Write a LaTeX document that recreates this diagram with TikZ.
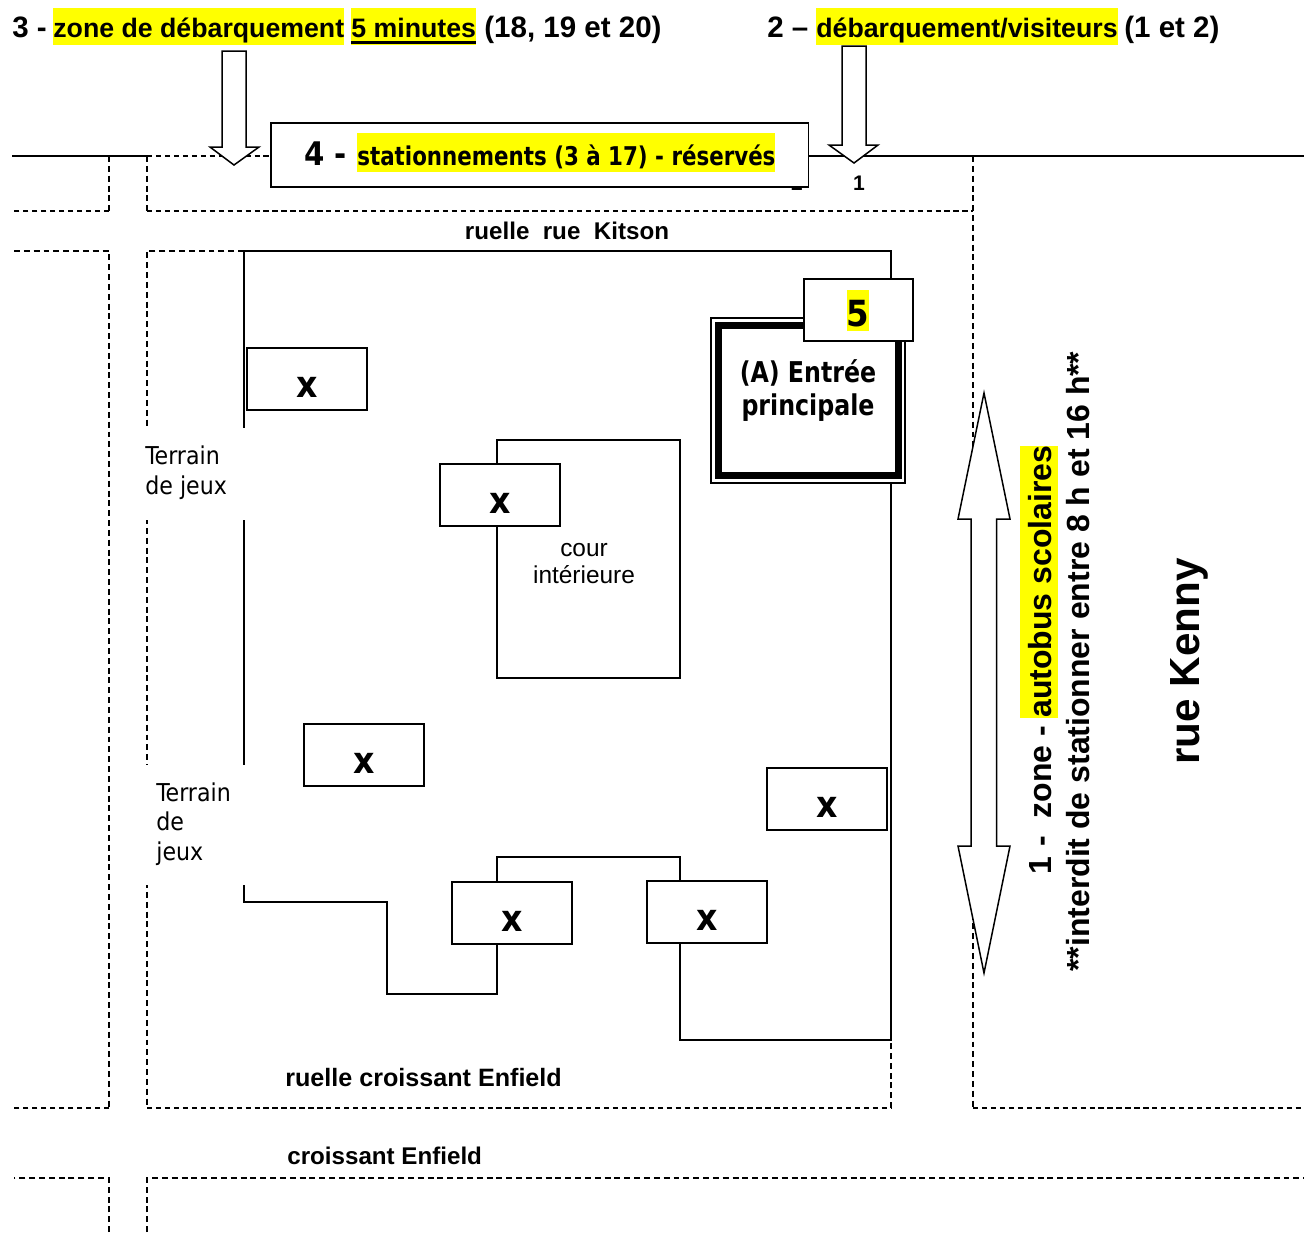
\documentclass[tikz,border=0pt]{standalone}
\usepackage{fontspec}
\setmainfont{Liberation Sans}
\newfontfamily\tahoma{DejaVu Sans Condensed}
\newfontfamily\tahomaetroit[FakeStretch=0.92]{DejaVu Sans Condensed}
\usepackage{tikz}
\usetikzlibrary{
  positioning,
  calc
}
\definecolor{surligneur}{RGB}{255,255,0}
\tikzstyle{rue}=[line width=0.85pt, dash pattern=on 3.4pt off 2.2pt]
\tikzstyle{rueforte}=[line width=1.1pt, dash pattern=on 3pt off 2.1pt]
\tikzstyle{mur}=[line width=0.95pt]
\tikzstyle{fleche}=[line width=0.85pt, fill=white, line join=miter]
\tikzstyle{titre}=[anchor=base west, inner sep=0pt, font=\fontsize{16.8}{20}\selectfont\bfseries]
\tikzstyle{surligne}=[titre, fill=surligneur, text height=16.5pt, text depth=4.5pt, font=\fontsize{15.2}{18}\selectfont\bfseries]
\tikzstyle{vertical}=[titre, rotate=90, font=\fontsize{18.2}{22}\selectfont\bfseries]
\tikzstyle{batiment}=[draw, mur, fill=white, inner sep=0pt, outer sep=0pt, minimum width=68.3pt, text height=28.4pt, text depth=6.7pt, anchor=north west, font=\tahoma\fontsize{21}{24}\selectfont\bfseries]
\tikzstyle{etiquette}=[inner sep=0pt, font=\fontsize{13.75}{16}\selectfont\bfseries]
\tikzstyle{terrain}=[anchor=north west, inner sep=0pt, align=left, font=\tahoma\fontsize{14}{16.8}\selectfont]

\begin{document}
\begin{tikzpicture}[x=0.02cm, y=-0.02cm]
    \useasboundingbox (0,0) rectangle (1304,1232);

    % rue du haut
    \draw [mur] (12,156) -- (147,156);
    \draw [mur] (809,156) -- (1304,156);
    \draw [rueforte] (147,156) -- (270,156);
    \draw [rue] (109,156) -- (109,211);
    \draw [rue] (147,156) -- (147,211);
    \draw [rueforte] (109,211) -- (14,211);
    \draw [rueforte] (147,211) -- (973,211);

    % ruelles et rues en pointille
    \draw [rue] (14,251) -- (109,251) -- (109,1108);
    \draw [rueforte] (109,1108) -- (14,1108);
    \draw [rue] (244,251) -- (147,251) -- (147,1108);
    \draw [rueforte] (147,1108) -- (891,1108);
    \draw [rue] (891,1108) -- (891,1040);
    \draw [rue] (973,156) -- (973,1108);
    \draw [rueforte] (973,1108) -- (1304,1108);
    \draw [rue] (109,1232) -- (109,1178) -- (14,1178);
    \draw [rue] (147,1232) -- (147,1178) -- (1304,1178);

    % contour de l'ecole
    \draw [mur] (244,902) -- (244,251) -- (891,251) -- (891,1040) -- (680,1040) -- (680,857)
      -- (497,857) -- (497,994) -- (387,994) -- (387,902) -- cycle;

    % cour interieure
    \draw [mur] (497,440) rectangle (680,678);
    \node [inner sep=0pt, align=center, font=\fontsize{13.9}{15.4}\selectfont] (cour) at (584,564) {cour\\intérieure};

    % terrains de jeux
    \fill [white] (146,428) rectangle (246,520);
    \fill [white] (146,765) rectangle (246,885);
    \node [terrain] (terrainA) at (145,445.5) {Terrain\\de jeux};
    \node [terrain] (terrainB) at (156,782) {Terrain\\de\\jeux};

    % batiments
    \node [batiment] (xA) at (247,348) {x};
    \node [batiment] (xB) at (440,464) {x};
    \node [batiment] (xC) at (304,724) {x};
    \node [batiment] (xD) at (767,768) {x};
    \node [batiment] (xE) at (452,882) {x};
    \node [batiment] (xF) at (647,881) {x};

    % entree principale
    \draw [line width=0.75pt, fill=white] (711,318) rectangle (905,483);
    \draw [line width=4pt] (718.5,325) rectangle (898.5,475.5);
    \node [inner sep=0pt, align=center, font=\tahomaetroit\fontsize{16.3}{18.3}\selectfont\bfseries] (entree) at (808,390.5) {(A) Entrée\\principale};
    \node [draw, mur, fill=white, anchor=north west, inner sep=0pt, outer sep=0pt, minimum width=62pt, minimum height=35.2pt] (boite5) at (804,279) {};
    \node [inner sep=0pt, fill=surligneur, text height=21pt, text depth=2.3pt, font=\tahoma\fontsize{20.5}{24}\selectfont\bfseries] (cinq) at (858,310.5) {5};

    % numeros sous la ligne (le 2 passe sous la boite)
    \node [etiquette, font=\fontsize{12}{14}\selectfont\bfseries] (num2) at (797,183) {2};
    \node [etiquette, font=\fontsize{12}{14}\selectfont\bfseries] (num1) at (859,183) {1};

    % boite des stationnements
    \node [draw, mur, fill=white, anchor=north west, inner sep=0pt, outer sep=0pt, minimum width=306pt, minimum height=36.4pt] (boite4) at (271,123) {};
    \node [anchor=base west, inner sep=0pt, font=\tahoma\fontsize{18.5}{22}\selectfont\bfseries] (quatre) at (304,165) {4 -};
    \node [anchor=base west, inner sep=0pt, fill=surligneur, text height=18.2pt, text depth=4pt, font=\tahomaetroit\fontsize{14.7}{18}\selectfont\bfseries] (station) at (357,165) {stationnements (3 à 17) - réservés};

    % titres du haut
    \node [titre] (t3) at (12,37) {3 -};
    \node [surligne] (t3a) at (53,37) {zone de débarquement};
    \node [surligne] (t3b) at (351,37) {5 minutes};
    \draw [line width=1.7pt] ([yshift=1.4pt]t3b.south west) -- ([yshift=1.4pt]t3b.south east);
    \node [titre] (t3c) at (484,37) {(18, 19 et 20)};
    \node [titre] (t2) at (767,37) {2 –};
    \node [surligne] (t2a) at (816,37) {débarquement/visiteurs};
    \node [titre] (t2b) at (1124,37) {(1 et 2)};

    % fleches
    \draw [fleche] (222,51) -- (246,51) -- (246,147) -- (259,147) -- (234,165) -- (210,147) -- (222,147) -- cycle;
    \draw [fleche] (842,46) -- (866,46) -- (866,145) -- (878,145) -- (854,163) -- (829,145) -- (842,145) -- cycle;
    \draw [fleche] (984,393) -- (1010,519) -- (996.5,519) -- (996.5,846) -- (1010,846) -- (984,973)
      -- (958,846) -- (971,846) -- (971,519) -- (958,519) -- cycle;

    % noms des rues
    \node [etiquette] (kitson) at (567,231) {ruelle\ \ rue\ \ Kitson};
    \node [etiquette, anchor=base west, font=\fontsize{14.3}{16}\selectfont\bfseries] (ruelleE) at (285,1086) {ruelle croissant Enfield};
    \node [etiquette, anchor=base west] (croissant) at (287,1164) {croissant Enfield};

    % textes verticaux
    \node [vertical] (zone) at (1051,875) {1\hspace{5.7pt}-\ \ zone -};
    \node [surligne, rotate=90, text height=17.6pt, text depth=4pt, font=\fontsize{18.2}{22}\selectfont\bfseries] (autobus) at (1051,718) {autobus scolaires};
    \node [vertical] (interdit) at (1089,972) {**interdit de stationner entre 8 h et 16 h**};
    \node [vertical, font=\fontsize{24}{28}\selectfont\bfseries] (kenny) at (1199,765) {rue Kenny};
\end{tikzpicture}
\end{document}
